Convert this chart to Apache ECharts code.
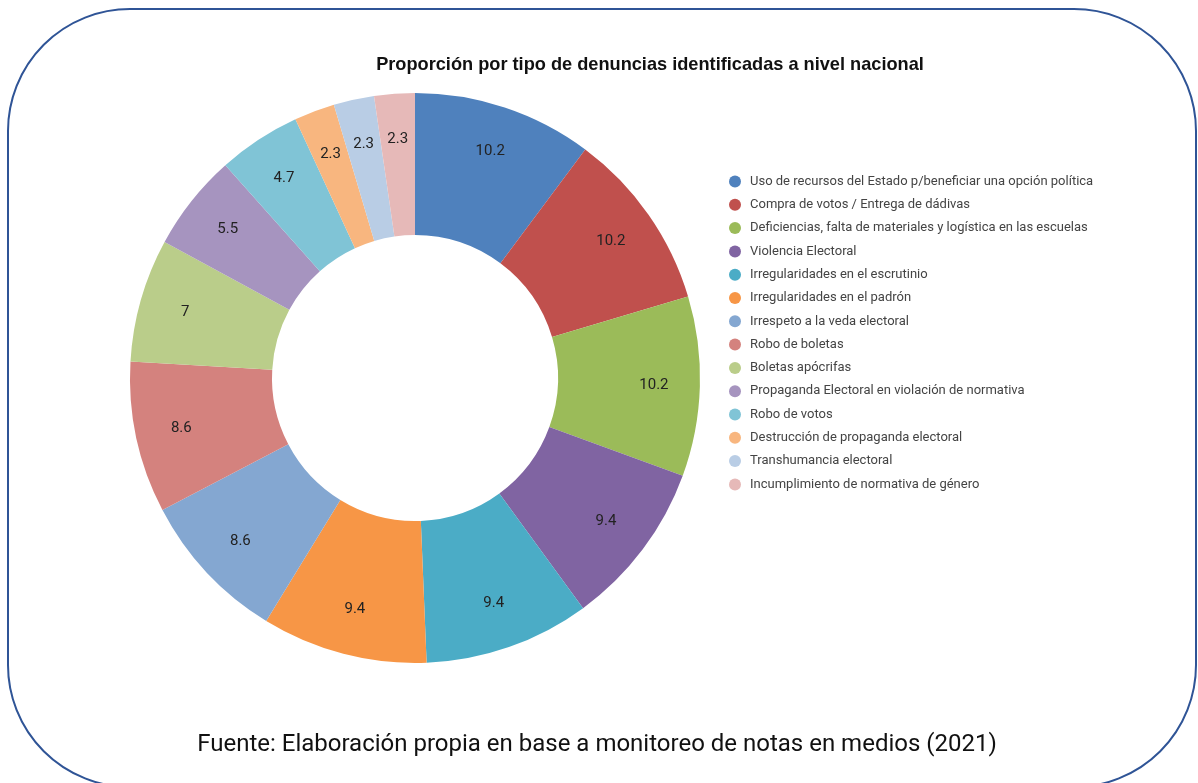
<!DOCTYPE html>
<html>
<head>
<meta charset="utf-8">
<script src="https://cdn.jsdelivr.net/npm/echarts@6/dist/echarts.min.js"></script>
<style>
  html, body { margin: 0; padding: 0; background: #fff; }
  #chart { width: 1198px; height: 783px; }
</style>
</head>
<body>
<div id="chart"></div>
<script>
const categories = [
  'Uso de recursos del Estado p/beneficiar una opción política',
  'Compra de votos / Entrega de dádivas',
  'Deficiencias, falta de materiales y logística en las escuelas',
  'Violencia Electoral',
  'Irregularidades en el escrutinio',
  'Irregularidades en el padrón',
  'Irrespeto a la veda electoral',
  'Robo de boletas',
  'Boletas apócrifas',
  'Propaganda Electoral en violación de normativa',
  'Robo de votos',
  'Destrucción de propaganda electoral',
  'Transhumancia electoral',
  'Incumplimiento de normativa de género'
]
const values = [10.2, 10.2, 10.2, 9.4, 9.4, 9.4, 8.6, 8.6, 7, 5.5, 4.7, 2.3, 2.3, 2.3]
const colors = [
  '#4f81bd', '#c0504d', '#9bbb59', '#8064a2', '#4bacc6', '#f79646', '#84a7d1',
  '#d4827e', '#bacd8a', '#a694bf', '#80c4d6', '#f8b67f', '#b9cde5', '#e6b9b8'
]

const chart = echarts.init(document.getElementById('chart'))
const pieData = categories.map((name, i) => ({ name, value: values[i] }))

chart.setOption({
  animation: false,
  color: colors,
  title: {
    text: 'Proporción por tipo de denuncias identificadas a nivel nacional',
    left: 645,
    textAlign: 'center',
    top: 51,
    textStyle: {
      fontFamily: 'Liberation Sans',
      fontSize: 18.2,
      fontWeight: 'bold',
      color: '#111'
    }
  },
  legend: {
    orient: 'vertical',
    left: 729,
    top: 175,
    padding: 0,
    icon: 'circle',
    itemWidth: 12,
    itemHeight: 12,
    itemGap: 10.3,
    textStyle: {
      fontFamily: 'Roboto',
      fontSize: 13,
      color: '#444',
      padding: [0, 0, 0, 4]
    },
    data: categories
  },
  graphic: [
    {
      type: 'rect',
      shape: { x: 8, y: 9, width: 1188, height: 778, r: 122 },
      style: { fill: 'none', stroke: '#2f5496', lineWidth: 2 },
      silent: true,
      z: -1
    },
    {
      type: 'text',
      x: 597,
      y: 745,
      style: {
        text: 'Fuente: Elaboración propia en base a monitoreo de notas en medios (2021)',
        fontFamily: 'Roboto',
        fontSize: 24,
        fill: '#111',
        align: 'center',
        verticalAlign: 'middle'
      }
    }
  ],
  series: [
    {
      type: 'pie',
      center: [415, 378],
      radius: [143, 285],
      startAngle: 90,
      clockwise: true,
      label: { show: false },
      labelLine: { show: false },
      itemStyle: { borderWidth: 0 },
      emphasis: { disabled: true },
      data: pieData
    },
    {
      // label ring: labels sit nearer the outer edge than the band midpoint
      type: 'pie',
      center: [415, 378],
      radius: [187, 285],
      startAngle: 90,
      clockwise: true,
      silent: true,
      avoidLabelOverlap: false,
      label: {
        show: true,
        position: 'inside',
        fontFamily: 'Roboto',
        fontSize: 15,
        color: '#222',
        formatter: '{c}'
      },
      labelLine: { show: false },
      itemStyle: { color: 'transparent' },
      emphasis: { disabled: true },
      data: pieData
    }
  ]
})
</script>
</body>
</html>
